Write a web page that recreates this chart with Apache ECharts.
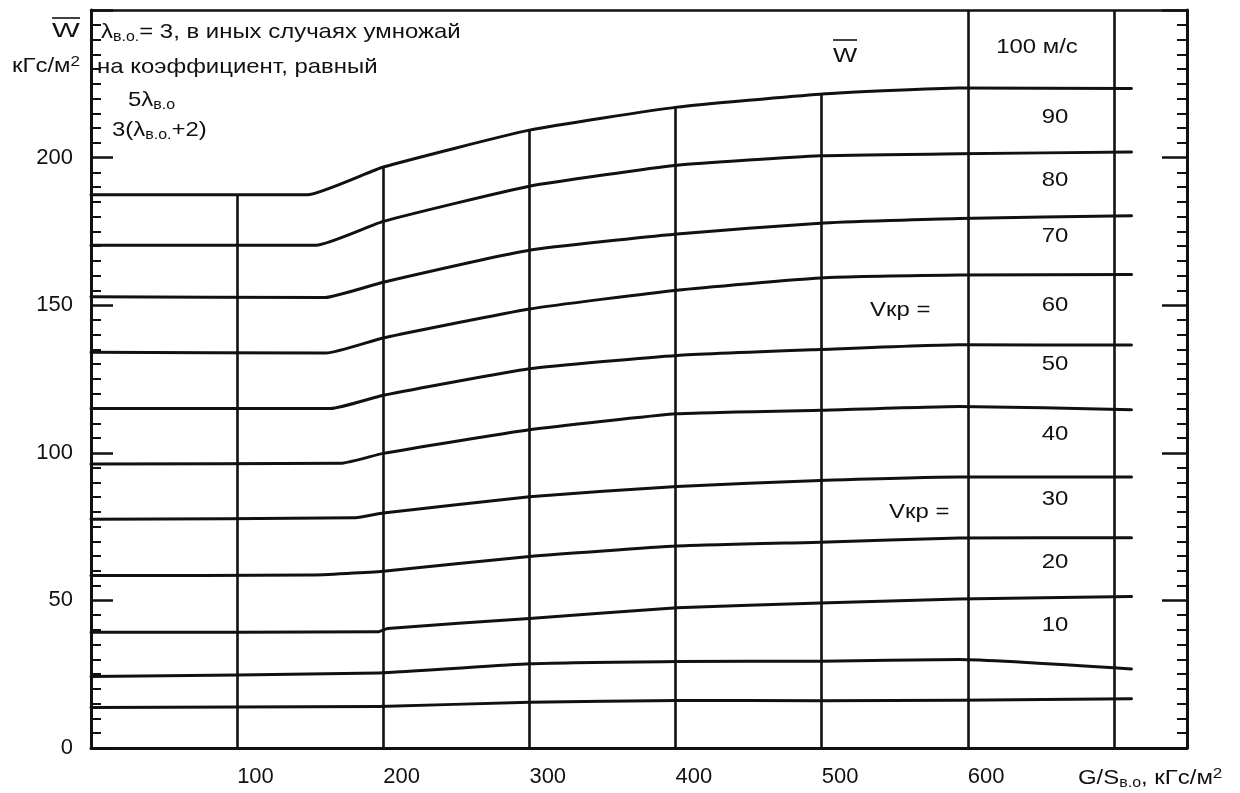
<!DOCTYPE html>
<html><head><meta charset="utf-8">
<script src="https://cdn.jsdelivr.net/npm/echarts@6/dist/echarts.min.js"></script>
<style>html,body{margin:0;padding:0;background:#fff}#c{width:1240px;height:793px}</style>
</head><body><div id="c"></div>
<script>
// ---- data ----
const xTickLabels = [100, 200, 300, 400, 500, 600];
const yTickLabels = [0, 50, 100, 150, 200];
const speedLabels = ['100 м/с', '90', '80', '70', '60', '50', '40', '30', '20', '10'];
const curve1  = [[0,187.4],[148,187.4],[200,196.8],[300,209.3],[401,217.1],[499,221.5],[594,223.6],[712,223.4]];
const curve2  = [[0,170.3],[154,170.3],[200,178.4],[300,190.3],[401,197.4],[499,200.6],[594,201.3],[712,201.9]];
const curve3  = [[0,152.9],[160,152.6],[200,157.8],[300,168.6],[401,174.1],[499,177.8],[594,179.4],[712,180.3]];
const curve4  = [[0,134.1],[161,133.8],[200,138.9],[300,148.7],[401,155.1],[499,159.2],[594,160.2],[712,160.4]];
const curve5  = [[0,115.0],[164,115.0],[200,119.5],[300,128.5],[401,133.0],[499,135.0],[594,136.6],[712,136.5]];
const curve6  = [[0,96.2],[172,96.5],[200,99.8],[300,107.8],[401,113.2],[499,114.4],[594,115.7],[712,114.6]];
const curve7  = [[0,77.5],[181,78.0],[200,79.6],[300,85.1],[401,88.6],[499,90.6],[594,91.8],[712,91.8]];
const curve8  = [[0,58.4],[150,58.6],[200,59.9],[300,64.9],[401,68.4],[499,69.7],[594,71.1],[712,71.2]];
const curve9  = [[0,39.2],[197,39.4],[203,40.5],[300,43.9],[401,47.5],[499,49.1],[594,50.5],[712,51.3]];
const curve10 = [[0,24.2],[197,25.4],[300,28.5],[401,29.3],[499,29.4],[594,30.0],[712,26.8]];
const curve11 = [[0,13.7],[197,14.1],[300,15.5],[401,16.1],[499,16.0],[594,16.2],[712,16.7]];
const curves = [curve1, curve2, curve3, curve4, curve5, curve6, curve7, curve8, curve9, curve10, curve11];
const partialGridX = [100, 200, 300, 400, 500];   // vertical lines from top curve down
const fullGridX = [600, 700];                      // vertical lines full height
const X_MIN = 0, X_MAX = 750, Y_MIN = 0, Y_MAX = 250;

// ---- helpers ----
function topAt(x) {
  const c = curve1;
  for (let i = 0; i < c.length - 1; i++) {
    if (x >= c[i][0] && x <= c[i + 1][0]) {
      const t = (x - c[i][0]) / (c[i + 1][0] - c[i][0]);
      return c[i][1] + t * (c[i + 1][1] - c[i][1]);
    }
  }
  return c[c.length - 1][1];
}
const FONT = '"Liberation Sans", Arial, sans-serif';
const INK = '#111';
const SX = 1.14;

const vLines = partialGridX.map(x => [{ coord: [x, topAt(x)] }, { coord: [x, Y_MIN] }])
  .concat(fullGridX.map(x => [{ coord: [x, Y_MAX] }, { coord: [x, Y_MIN] }]));

const series = curves.map(d => ({
  type: 'line', data: d, showSymbol: false, smooth: 0.15,
  lineStyle: { color: INK, width: 3, cap: 'round', join: 'round' }, silent: true, animation: false, z: 3
}));
series.push({
  type: 'line', data: [], silent: true, animation: false,
  markLine: { symbol: ['none', 'none'], silent: true, animation: false, label: { show: false },
    lineStyle: { type: 'solid', color: INK, width: 2.6 }, data: vLines }
});

function txt(x, y, text, opts) {
  opts = opts || {};
  return { type: 'text', x: x, y: y, silent: true, scaleX: opts.sx || SX, originX: 0, originY: 0,
    style: { text: text, rich: R, fill: INK, font: (opts.fs || 21) + 'px ' + FONT,
      align: opts.align || 'left', verticalAlign: 'middle' } };
}
const R = {
  a: { fontSize: 21, fontFamily: FONT, fill: INK, lineHeight: 24 },
  s: { fontSize: 14, fontFamily: FONT, fill: INK, lineHeight: 12, verticalAlign: 'bottom' },
  p: { fontSize: 15, fontFamily: FONT, fill: INK, lineHeight: 12, verticalAlign: 'top' }
};
const speedY = [47, 117, 180, 236, 305, 364, 434, 499, 562, 625];
const graphics = [
  txt(52, 31, 'W', { sx: 1.4 }),
  { type: 'line', silent: true, shape: { x1: 52, y1: 18, x2: 80, y2: 18 }, style: { stroke: INK, lineWidth: 1.6 } },
  txt(12, 66, '{a|кГс/м}{p|2}'),
  txt(101, 32, '{a|λ}{s|в.о.}{a|= 3, в иных случаях умножай}'),
  txt(97, 67, '{a|на коэффициент, равный}'),
  txt(128, 100, '{a|5λ}{s|в.о}'),
  txt(112, 130, '{a|3(λ}{s|в.о.}{a|+2)}'),
  txt(833, 56, 'W', { sx: 1.22 }),
  { type: 'line', silent: true, shape: { x1: 833, y1: 40, x2: 857, y2: 40 }, style: { stroke: INK, lineWidth: 1.6 } },
  txt(870, 310, '{a|Vкр =}'),
  txt(889, 512, '{a|Vкр =}'),
  txt(1078, 778, '{a|G/S}{s|в.о}{a|, кГс/м}{p|2}')
];
speedLabels.forEach((s, i) => {
  graphics.push({ type: 'text', silent: true, x: i === 0 ? 1037 : 1055, y: speedY[i], scaleX: SX, originX: 0, originY: 0,
    style: { text: s, fill: INK, font: '21px ' + FONT, align: 'center', verticalAlign: 'middle' } });
});

const yAxisBase = {
  type: 'value', min: Y_MIN, max: Y_MAX, interval: 50,
  axisLine: { show: true, onZero: false, lineStyle: { color: INK, width: 3 } },
  splitLine: { show: false },
  minorTick: { show: true, splitNumber: 10, length: 10, lineStyle: { color: INK, width: 2 } },
  minorSplitLine: { show: false }
};

const chart = echarts.init(document.getElementById('c'), null, { renderer: 'canvas' });
chart.setOption({
  backgroundColor: '#fff',
  animation: false,
  grid: { left: 91, right: 53, top: 10, bottom: 45, containLabel: false },
  xAxis: [
    { type: 'value', position: 'bottom', min: X_MIN, max: X_MAX, interval: 100,
      axisLine: { show: true, onZero: false, lineStyle: { color: INK, width: 3 } },
      axisTick: { show: false }, splitLine: { show: false },
      axisLabel: { show: true, color: INK, fontSize: 22, fontFamily: FONT, align: 'left', margin: 18,
        formatter: v => (xTickLabels.indexOf(v) >= 0 ? String(v) : '') } },
    { type: 'value', position: 'top', min: X_MIN, max: X_MAX, interval: 100,
      axisLine: { show: true, onZero: false, lineStyle: { color: INK, width: 2.5 } },
      axisTick: { show: false }, axisLabel: { show: false }, splitLine: { show: false } }
  ],
  yAxis: [
    Object.assign({}, yAxisBase, { position: 'left',
      axisTick: { show: true, inside: true, length: 22, lineStyle: { color: INK, width: 2.5 } },
      axisLabel: { show: true, color: INK, fontSize: 22, fontFamily: FONT, margin: 18,
        formatter: v => (yTickLabels.indexOf(v) >= 0 ? String(v) : '') } }),
    Object.assign({}, yAxisBase, { position: 'right',
      axisTick: { show: true, inside: true, length: 25, lineStyle: { color: INK, width: 2.5 } },
      axisLabel: { show: false } })
  ],
  series: series,
  graphic: graphics
});
</script></body></html>
